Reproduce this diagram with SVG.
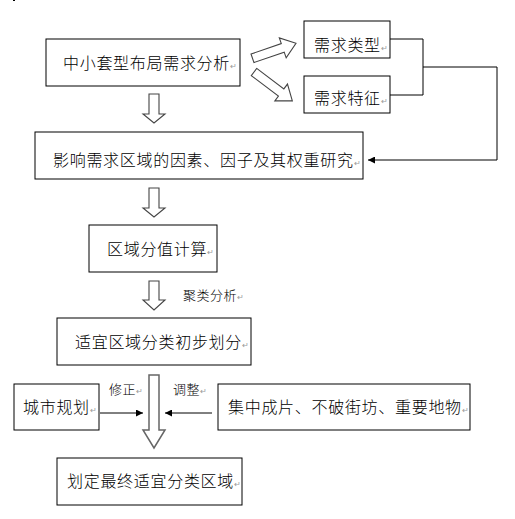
<svg xmlns="http://www.w3.org/2000/svg" width="515" height="519" viewBox="0 0 515 519">
<defs>
<style>
.box{fill:#fff;stroke:#000;stroke-width:1}
.t{font-family:"Noto Sans CJK SC","Liberation Sans",sans-serif;font-size:16px;font-weight:300;letter-spacing:0.7px;fill:#000}
.s{font-family:"Noto Sans CJK SC","Liberation Sans",sans-serif;font-size:13px;font-weight:300;letter-spacing:0.5px;fill:#000}
.pm{font-family:"DejaVu Sans",sans-serif;font-size:8px;fill:#999;letter-spacing:0}
.ha{fill:#fff;stroke:#444;stroke-width:1.1}
.ln{fill:none;stroke:#000;stroke-width:1}
</style>
<marker id="ah" viewBox="0 0 10 10" refX="10" refY="5" markerWidth="8" markerHeight="7" markerUnits="userSpaceOnUse" orient="auto">
<path d="M0,0 L10,5 L0,10 z" fill="#000"/>
</marker>
</defs>
<rect x="13" y="0" width="2" height="1" fill="#000"/>
<g id="connectors">
<polyline class="ln" points="390,39 423,39 423,95 390,95"/>
<polyline class="ln" points="423,67 497,67 497,160 368,160" marker-end="url(#ah)"/>
<line class="ln" x1="100" y1="413" x2="143" y2="413" marker-end="url(#ah)"/>
<line class="ln" x1="212" y1="413" x2="165" y2="413" marker-end="url(#ah)"/>
<polygon class="ha" transform="translate(252.5,58.3) rotate(-19)" points="0,-4.5 32,-4.5 32,-10.5 46,0 32,10.5 32,4.5 0,4.5"/>
<polygon class="ha" transform="translate(254,72) rotate(37)" points="0,-4.5 34,-4.5 34,-10.5 48,0 34,10.5 34,4.5 0,4.5"/>
<polygon class="ha" points="149,94 159,94 159,114 165,114 154,123 143,114 149,114"/>
<polygon class="ha" points="149,188 159,188 159,208 165,208 154,217 143,208 149,208"/>
<polygon class="ha" points="149,281 159,281 159,300 165,300 154,310 143,300 149,300"/>
<polygon class="ha" style="stroke:#666;stroke-width:1.5" points="149,375 159,375 159,430 165,430 154,448 143,430 149,430"/>
<text class="s" x="183" y="300">聚类分析<tspan class="pm">↵</tspan></text>
<text class="s" x="109" y="394">修正<tspan class="pm">↵</tspan></text>
<text class="s" x="173" y="394">调整<tspan class="pm">↵</tspan></text>
</g>
<g id="n1"><rect class="box" x="46" y="39" width="194" height="47"/><text class="t" x="63" y="69">中小套型布局需求分析<tspan class="pm">↵</tspan></text></g>
<g id="n2"><rect class="box" x="304" y="21" width="86" height="37"/><text class="t" x="314" y="51">需求类型<tspan class="pm">↵</tspan></text></g>
<g id="n3"><rect class="box" x="304" y="76" width="86" height="37"/><text class="t" x="314" y="104">需求特征<tspan class="pm">↵</tspan></text></g>
<g id="n4"><rect class="box" x="35" y="132" width="328" height="47"/><text class="t" x="53" y="166">影响需求区域的因素、因子及其权重研究<tspan class="pm">↵</tspan></text></g>
<g id="n5"><rect class="box" x="89" y="225" width="128" height="47"/><text class="t" x="107" y="255">区域分值计算<tspan class="pm">↵</tspan></text></g>
<g id="n6"><rect class="box" x="57" y="318" width="194" height="47"/><text class="t" x="75" y="348">适宜区域分类初步划分<tspan class="pm">↵</tspan></text></g>
<g id="n7"><rect class="box" x="14" y="384" width="85" height="46"/><text class="t" x="23" y="413">城市规划<tspan class="pm">↵</tspan></text></g>
<g id="n8"><rect class="box" x="218" y="384" width="252" height="46"/><text class="t" x="228" y="413">集中成片、不破街坊、重要地物<tspan class="pm">↵</tspan></text></g>
<g id="n9"><rect class="box" x="57" y="458" width="185" height="47"/><text class="t" x="67" y="487">划定最终适宜分类区域<tspan class="pm">↵</tspan></text></g>
</svg>
